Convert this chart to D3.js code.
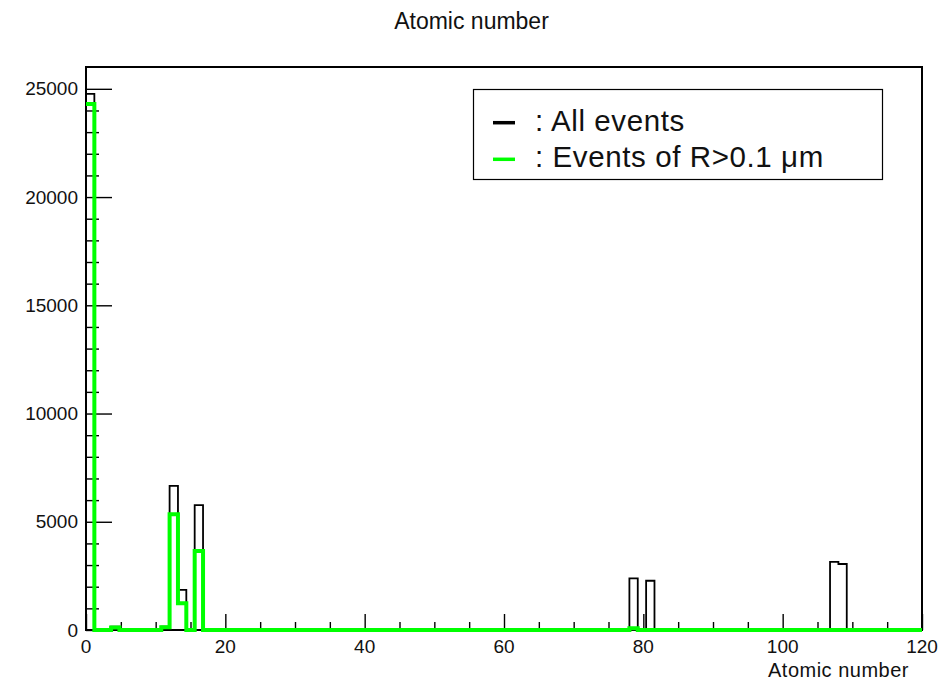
<!DOCTYPE html>
<html>
<head>
<meta charset="utf-8">
<script src="https://cdn.jsdelivr.net/npm/d3@7"></script>
<style>
  body { margin: 0; background: #fff; }
  text { font-family: "Liberation Sans", Arial, sans-serif; fill: #111; }
</style>
</head>
<body>
<div id="chart"></div>
<script>
// histogram: 100 bins from 0 to 120 (bin width 1.2), only non-empty bins listed
const nBins = 100
const xMin = 0, xMax = 120

const allBinIndex = [0, 3, 9, 10, 11, 13, 65, 67, 89, 90]
const allCounts   = [24770, 150, 150, 6660, 1850, 5770, 2385, 2275, 3150, 3050]

const bigBinIndex = [0, 3, 9, 10, 11, 13, 65]
const bigCounts   = [24300, 120, 130, 5350, 1230, 3650, 80]

const xTicks = [0, 20, 40, 60, 80, 100, 120]
const yTicks = [0, 5000, 10000, 15000, 20000, 25000]

const legendLabels = [": All events", ": Events of R>0.1 \u03bcm"]
const colors = ["#000000", "#00ff00"]

const width = 943, height = 684
const frame = { left: 86, right: 922, top: 67, bottom: 630 }

function fillBins(idx, vals) {
    let arr = new Array(nBins).fill(0)
    idx.forEach((b, i) => { arr[b] = vals[i] })
    return arr
}
const allHist = fillBins(allBinIndex, allCounts)
const bigHist = fillBins(bigBinIndex, bigCounts)
const binW = (xMax - xMin) / nBins

const x = d3.scaleLinear().domain([xMin, xMax]).range([frame.left, frame.right])
const y = d3.scaleLinear().domain([0, d3.max(allHist) * 1.05]).range([frame.bottom, frame.top])

const svg = d3.select("#chart").append("svg")
    .attr("width", width)
    .attr("height", height)

svg.append("rect").attr("width", width).attr("height", height).attr("fill", "#fff")

// clip a bit below the frame so the thick green baseline lies on the axis
svg.append("defs").append("clipPath").attr("id", "frameClip")
    .append("rect")
    .attr("x", frame.left).attr("y", frame.top)
    .attr("width", frame.right - frame.left)
    .attr("height", frame.bottom - frame.top + 3)

// title
svg.append("text")
    .attr("x", width / 2)
    .attr("y", 29)
    .attr("text-anchor", "middle")
    .style("font-size", "23px")
    .text("Atomic number")

// step outline like ROOT draws it (starts at the top of the first bin)
function stepPath(hist) {
    let p = d3.path()
    p.moveTo(x(xMin), y(hist[0]))
    hist.forEach((v, i) => {
        p.lineTo(x(xMin + i * binW), y(v))
        p.lineTo(x(xMin + (i + 1) * binW), y(v))
    })
    p.lineTo(x(xMax), y(0))
    return p.toString()
}

// frame
svg.append("rect")
    .attr("x", frame.left).attr("y", frame.top)
    .attr("width", frame.right - frame.left)
    .attr("height", frame.bottom - frame.top)
    .attr("fill", "none")
    .attr("stroke", "#000")
    .attr("stroke-width", 2)

// x axis ticks (inside, upward)
const xAxis = d3.axisTop(x)
    .tickValues(d3.range(0, 121, 5))
    .tickSize(0)
    .tickFormat("")
const gx = svg.append("g").attr("transform", `translate(0,${frame.bottom})`).call(xAxis)
gx.select(".domain").remove()
gx.selectAll(".tick line")
    .attr("y2", d => d % 20 === 0 ? -16 : -8)
    .attr("stroke", "#000").attr("stroke-width", 1.4)
svg.append("g").selectAll("text").data(xTicks).join("text")
    .attr("x", d => x(d))
    .attr("y", 653)
    .attr("text-anchor", "middle")
    .style("font-size", "19px")
    .text(d => d)

// y axis ticks (inside, rightward)
const yAxis = d3.axisRight(y)
    .tickValues(d3.range(0, 25001, 1000))
    .tickSize(0)
    .tickFormat("")
const gy = svg.append("g").attr("transform", `translate(${frame.left},0)`).call(yAxis)
gy.select(".domain").remove()
gy.selectAll(".tick line")
    .attr("x2", d => d % 5000 === 0 ? 26 : 13)
    .attr("stroke", "#000").attr("stroke-width", 1.4)
svg.append("g").selectAll("text").data(yTicks).join("text")
    .attr("x", 78)
    .attr("y", d => y(d))
    .attr("dy", "0.35em")
    .attr("text-anchor", "end")
    .style("font-size", "19px")
    .text(d => d)

// histograms
const hg = svg.append("g").attr("clip-path", "url(#frameClip)")
hg.append("path")
    .attr("d", stepPath(allHist))
    .attr("fill", "none")
    .attr("stroke", colors[0])
    .attr("stroke-width", 1.8)

hg.append("path")
    .attr("d", stepPath(bigHist))
    .attr("fill", "none")
    .attr("stroke", colors[1])
    .attr("stroke-width", 4)

// x axis title
svg.append("text")
    .attr("x", 909)
    .attr("y", 677)
    .attr("text-anchor", "end")
    .style("font-size", "20px")
    .style("letter-spacing", "0.5px")
    .text("Atomic number")

// legend
const lg = svg.append("g")
lg.append("rect")
    .attr("x", 473.5).attr("y", 89.5)
    .attr("width", 409).attr("height", 90)
    .attr("fill", "#fff")
    .attr("stroke", "#000")
    .attr("stroke-width", 1.2)
legendLabels.forEach((lab, i) => {
    const cy = 122.7 + i * 36.6
    lg.append("line")
        .attr("x1", 493).attr("x2", 515)
        .attr("y1", cy).attr("y2", cy)
        .attr("stroke", colors[i])
        .attr("stroke-width", 3.5)
    lg.append("text")
        .attr("x", 535)
        .attr("y", cy + 8)
        .style("font-size", "29.5px")
        .style("letter-spacing", "0.6px")
        .text(lab)
})
</script>
</body>
</html>
